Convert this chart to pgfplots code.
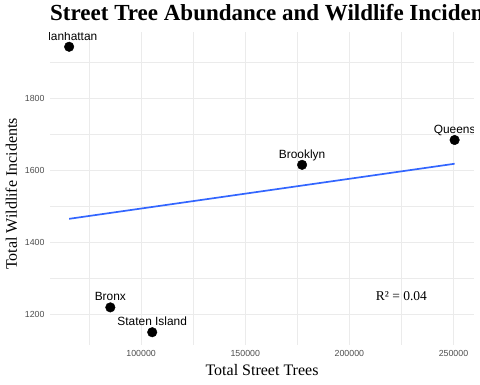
\documentclass[border=0pt]{standalone}
\usepackage{pgfplots}
\pgfplotsset{compat=1.18}
\usepackage{fontspec}
\setmainfont{Liberation Serif}
\setsansfont{Liberation Sans}
\definecolor{tickgray}{HTML}{4D4D4D}
\definecolor{gridgray}{HTML}{EBEBEB}
\definecolor{smoothblue}{HTML}{3366FF}
\pgfplotstableread{
x y name
250551 1684 Queens
177293 1615 Brooklyn
105318 1150 {Staten Island}
85203 1219 Bronx
65423 1943 Manhattan
}\boroughs
\begin{document}
\begin{tikzpicture}
\begin{axis}[
  at={(50pt,39pt)}, anchor=south west,
  scale only axis, width=424pt, height=313pt,
  xmin=56228, xmax=259856, ymin=1114.5, ymax=1984,
  scaled x ticks=false, scaled y ticks=false,
  axis line style={draw=none},
  major tick length=0pt, minor tick length=0pt,
  xtick={100000,150000,200000,250000},
  xticklabels={100000,150000,200000,250000},
  minor xtick={75000,125000,175000,225000},
  ytick={1200,1400,1600,1800},
  yticklabels={1200,1400,1600,1800},
  minor ytick={1300,1500,1700,1900},
  grid=both,
  major grid style={draw=gridgray, line width=1.07pt},
  minor grid style={draw=gridgray, line width=0.53pt},
  tick label style={font=\fontsize{8.8}{10}\sffamily, text=tickgray},
  xticklabel style={yshift=-2pt},
  yticklabel style={xshift=-2pt},
]
\addplot[only marks, mark=*, mark size=4.8pt, black] table[x=x, y=y] {\boroughs};
\addplot[smoothblue, line width=1.7pt] coordinates {(65423,1465) (250551,1618)};
\node[anchor=base, yshift=6.5pt, font=\fontsize{11.9}{13}\sffamily] at (axis cs:250551,1684) {Queens};
\node[anchor=base, yshift=6.5pt, font=\fontsize{11.9}{13}\sffamily] at (axis cs:177293,1615) {Brooklyn};
\node[anchor=base, yshift=6.5pt, font=\fontsize{11.9}{13}\sffamily] at (axis cs:105318,1150) {Staten Island};
\node[anchor=base, yshift=6.5pt, font=\fontsize{11.9}{13}\sffamily] at (axis cs:85203,1219) {Bronx};
\node[anchor=base, yshift=6.5pt, font=\fontsize{11.9}{13}\sffamily] at (axis cs:65423,1943) {Manhattan};
\node[font=\fontsize{13.5}{15}\selectfont] at (axis cs:225000,1250) {R² = 0.04};
\end{axis}
\useasboundingbox (0,0) rectangle (480pt,384pt);
\begin{scope}
\clip (0,0) rectangle (480pt,384pt);
\node[anchor=base west, inner sep=0pt, font=\fontsize{23}{27}\selectfont\bfseries] at (50pt,363pt) {Street Tree Abundance and Wildlife Incidents};
\end{scope}
\node[anchor=base, inner sep=0pt, font=\fontsize{16}{18}\selectfont] at (262pt,9pt) {Total Street Trees};
\node[rotate=90, anchor=base, inner sep=0pt, font=\fontsize{16}{18}\selectfont] at (17pt,190pt) {Total Wildlife Incidents};
\end{tikzpicture}
\end{document}
